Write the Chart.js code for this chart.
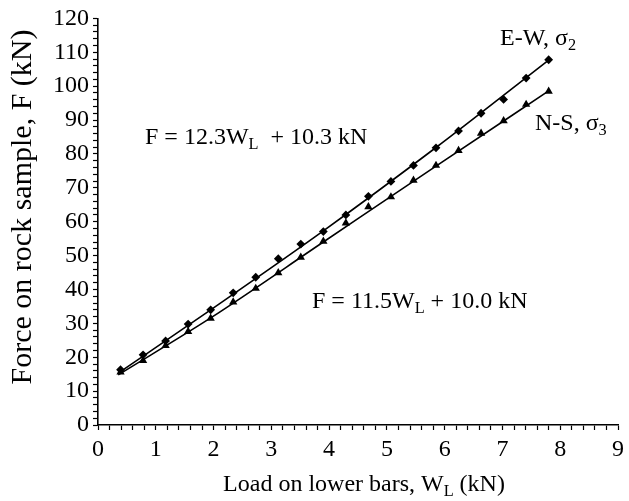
<!DOCTYPE html>
<html>
<head>
<meta charset="utf-8">
<script src="https://cdn.jsdelivr.net/npm/chart.js@4"></script>
<style>
html,body{margin:0;padding:0;background:#fff;}
#wrap{width:629px;height:501px;position:relative;}
</style>
</head>
<body>
<div id="wrap"><canvas id="c" width="629" height="501"></canvas></div>
<script>
// ---- data ----
const loadWL = [0.39,0.78,1.17,1.56,1.95,2.34,2.73,3.12,3.51,3.90,4.29,4.68,5.07,5.46,5.85,6.24,6.63,7.02,7.41,7.80];
const forceEW = [16.3,20.7,24.8,29.8,34.0,39.0,43.6,49.1,53.4,57.1,62.0,67.5,71.9,76.6,81.8,86.8,92.0,96.1,102.4,107.8];
const forceNS = [15.6,19.0,23.4,27.6,31.5,36.3,40.3,44.9,49.5,54.2,59.6,64.4,67.3,72.2,76.6,81.0,86.1,89.8,94.6,98.5];
// points
const curveWL = [0.35, 1.95, 3.90, 5.85, 7.80];
const curveEW = [15.3, 34.0, 57.3, 81.9, 107.7];
const curveNS = [14.8, 31.6, 54.0, 76.4, 98.6];
const xTickLabels = ['0','1','2','3','4','5','6','7','8','9'];
const yTickLabels = ['0','10','20','30','40','50','60','70','80','90','100','110','120'];

const FONT = '"Liberation Serif", "Times New Roman", serif';

function pts(xs, ys){ return xs.map((x,i)=>({x:x, y:ys[i]})); }

// draws text runs with subscripts
function drawRuns(ctx, runs, x, y, size, align){
  ctx.save();
  ctx.fillStyle = '#000';
  ctx.textBaseline = 'alphabetic';
  ctx.textAlign = 'left';
  let total = 0;
  const widths = runs.map(r => {
    ctx.font = (r.sub ? size*0.68 : size) + 'px ' + FONT;
    const w = ctx.measureText(r.t).width;
    total += w; return w;
  });
  let cx = align === 'center' ? x - total/2 : x;
  runs.forEach((r,i) => {
    ctx.font = (r.sub ? size*0.68 : size) + 'px ' + FONT;
    ctx.fillText(r.t, cx, y + (r.sub ? size*0.22 : 0));
    cx += widths[i];
  });
  ctx.restore();
}

const textPlugin = {
  id: 'texts',
  afterDraw(chart){
    const ctx = chart.ctx;
    // y-axis title
    ctx.save();
    ctx.translate(31, 207);
    ctx.rotate(-Math.PI/2);
    drawRuns(ctx, [{t:'Force on rock sample, F (kN)'}], 0, 0, 30, 'center');
    ctx.restore();
    // x-axis title
    drawRuns(ctx, [{t:'Load on lower bars, W'},{t:'L',sub:true},{t:' (kN)'}], 364, 491, 24, 'center');
    // equations and series labels
    drawRuns(ctx, [{t:'F = 12.3W'},{t:'L',sub:true},{t:'  + 10.3 kN'}], 145, 144, 24, 'left');
    drawRuns(ctx, [{t:'F = 11.5W'},{t:'L',sub:true},{t:' + 10.0 kN'}], 312, 308, 24, 'left');
    drawRuns(ctx, [{t:'E-W, σ'},{t:'2',sub:true}], 500, 45, 24, 'left');
    drawRuns(ctx, [{t:'N-S, σ'},{t:'3',sub:true}], 535, 130, 24, 'left');
  }
};

function isInt(v){ return Math.abs(v - Math.round(v)) < 1e-6; }

new Chart(document.getElementById('c'), {
  type: 'scatter',
  data: {
    datasets: [
      { label: 'E-W', data: pts(loadWL, forceEW), showLine: false,
        pointStyle: 'rectRot', pointRadius: 4.4, backgroundColor: '#000', borderColor: '#000', borderWidth: 0 },
      { label: 'N-S', data: pts(loadWL, forceNS), showLine: false,
        pointStyle: 'triangle', pointRadius: 4.8, backgroundColor: '#000', borderColor: '#000', borderWidth: 0 },
      { label: 'E-W trend', data: pts(curveWL, curveEW), showLine: true, pointRadius: 0,
        cubicInterpolationMode: 'monotone', borderColor: '#000', borderWidth: 1.6, fill: false },
      { label: 'N-S trend', data: pts(curveWL, curveNS), showLine: true, pointRadius: 0,
        cubicInterpolationMode: 'monotone', borderColor: '#000', borderWidth: 1.6, fill: false }
    ]
  },
  options: {
    responsive: false,
    animation: false,
    devicePixelRatio: 1,
    layout: { padding: { left: 0, right: 7, top: 15, bottom: 0 } },
    plugins: { legend: { display: false }, tooltip: { enabled: false } },
    scales: {
      x: {
        type: 'linear', min: 0, max: 9,
        afterFit(s){ s.height = 76; },
        ticks: {
          stepSize: 0.2, autoSkip: false, maxRotation: 0, maxTicksLimit: 200,
          color: '#000', font: { family: FONT, size: 24 }, padding: 5,
          callback: v => isInt(v) ? xTickLabels[Math.round(v)] : ''
        },
        grid: { drawOnChartArea: false, drawTicks: true, tickLength: 5, tickColor: '#000', tickWidth: 1.2 },
        border: { display: true, color: '#000', width: 1.6 }
      },
      y: {
        type: 'linear', min: 0, max: 120,
        afterFit(s){ s.width = 98; },
        ticks: {
          stepSize: 2, autoSkip: false, maxTicksLimit: 200,
          color: '#000', font: { family: FONT, size: 24 }, padding: 4,
          callback: v => (isInt(v/10)) ? yTickLabels[Math.round(v/10)] : ''
        },
        grid: { drawOnChartArea: false, drawTicks: true, tickLength: 5, tickColor: '#000', tickWidth: 1.2 },
        border: { display: true, color: '#000', width: 1.6 }
      }
    }
  },
  plugins: [textPlugin]
});
</script>
</body>
</html>
